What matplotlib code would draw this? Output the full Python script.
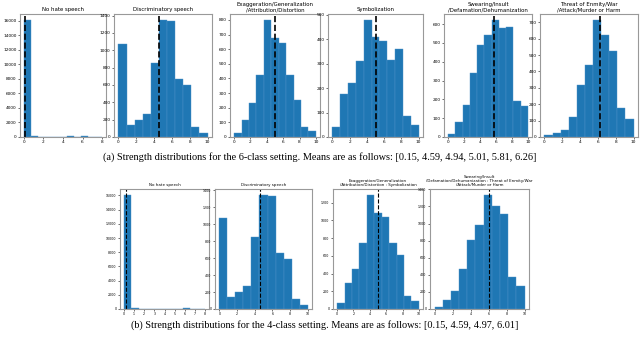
import numpy as np
import matplotlib.pyplot as plt
from matplotlib.ticker import MultipleLocator

# bar heights (11 bins per panel)
no_hate = [16100, 80, 10, 10, 15, 50, 70, 10, 150, 10, 10]
discrim = [1070, 140, 200, 270, 850, 1350, 1335, 665, 595, 115, 45]
exagg = [25, 115, 230, 425, 800, 675, 640, 425, 255, 65, 40]
symbol = [40, 175, 220, 310, 480, 410, 395, 315, 360, 85, 50]
swear = [15, 78, 170, 338, 487, 540, 622, 580, 585, 190, 162]
threat = [10, 25, 40, 125, 315, 440, 715, 625, 522, 180, 112]
exagg_symbol = [65, 290, 450, 740, 1290, 1085, 1035, 745, 615, 150, 90]
swear_threat = [25, 103, 210, 463, 802, 980, 1337, 1205, 1107, 370, 274]

titles6 = ['No hate speech', 'Discriminatory speech',
           'Exaggeration/Generalization\n/Attribution/Distortion', 'Symbolization',
           'Swearing/Insult\n/Defamation/Dehumanization', 'Threat of Enmity/War\n/Attack/Murder or Harm']
titles4 = ['No hate speech', 'Discriminatory speech',
           'Exaggeration/Generalization\n/Attribution/Distortion : Symbolization',
           'Swearing/Insult\n/Defamation/Dehumanization : Threat of Enmity/War\n/Attack/Murder or Harm']
means6 = [0.15, 4.59, 4.94, 5.01, 5.81, 6.26]
means4 = [0.15, 4.59, 4.97, 6.01]
xmax6 = [8, 10, 10, 10, 10, 10]
xmax4 = [8, 10, 10, 10]
counts6 = [no_hate, discrim, exagg, symbol, swear, threat]
counts4 = [no_hate, discrim, exagg_symbol, swear_threat]

caption_a = ('(a) Strength distributions for the 6-class setting. Means are as follows: '
             '[0.15, 4.59, 4.94, 5.01, 5.81, 6.26]')
caption_b = ('(b) Strength distributions for the 4-class setting. Means are as follows: '
             '[0.15, 4.59, 4.97, 6.01]')

W, H = 640, 338
fig = plt.figure(figsize=(6.4, 3.38), dpi=100)


def px_axes(l, r, t, b):
    return fig.add_axes([l / W, 1 - b / H, (r - l) / W, (b - t) / H])


def draw(ax, counts, xmax, mean, title, tfs, kfs, lw):
    edges = np.linspace(0, xmax, len(counts) + 1)
    ax.bar(edges[:-1], counts, width=np.diff(edges), align='edge',
           color='#1f77b4', edgecolor='#4f93c8', linewidth=0.3)
    ax.axvline(mean, color='k', linestyle='--', linewidth=lw)
    ax.set_title(title, fontsize=tfs, pad=2, linespacing=1.0)
    ax.tick_params(labelsize=kfs, length=1.5, width=0.4, pad=1)
    for s in ax.spines.values():
        s.set_color('#999999')
        s.set_linewidth(0.8)


top_box = [(20, 106), (114, 212), (230, 320), (328, 423), (444, 532), (540, 638)]
for i, (l, r) in enumerate(top_box):
    ax = px_axes(l, r, 14, 137)
    draw(ax, counts6[i], xmax6[i], means6[i], titles6[i], 3.9, 3.1, 1.2)

bot_box = [(120, 209), (215, 312), (333, 423), (430, 529)]
for i, (l, r) in enumerate(bot_box):
    ax = px_axes(l, r, 189, 309)
    draw(ax, counts4[i], xmax4[i], means4[i], titles4[i], 2.9, 2.3, 0.8)
    if i == 0:
        ax.xaxis.set_major_locator(MultipleLocator(1))

fig.text(320 / W, 1 - 157 / H, caption_a, ha='center', va='center',
         fontsize=7.4, family='Liberation Serif')
fig.text(325 / W, 1 - 325 / H, caption_b, ha='center', va='center',
         fontsize=7.4, family='Liberation Serif')

fig.savefig('out.png', dpi=100)
